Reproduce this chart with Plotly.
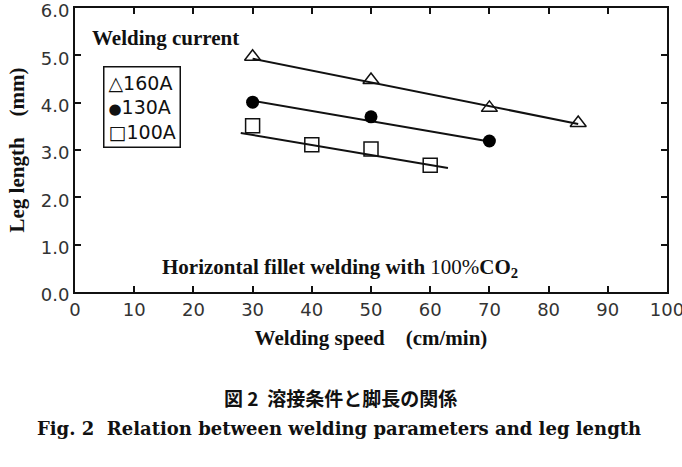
import plotly.graph_objects as go

# Data
speed_160 = [30, 50, 70, 85]
leg_160 = [4.97, 4.48, 3.89, 3.57]
speed_130 = [30, 50, 70]
leg_130 = [4.01, 3.70, 3.19]
speed_100 = [30, 40, 50, 60]
leg_100 = [3.51, 3.11, 3.02, 2.68]

# Fitted trend lines (end points)
fit_x_160 = [30, 85]
fit_y_160 = [4.93, 3.55]
fit_x_130 = [30, 70]
fit_y_130 = [4.04, 3.18]
fit_x_100 = [28, 63]
fit_y_100 = [3.36, 2.62]

series_names = ["160A", "130A", "100A"]
legend_glyphs = ["△", "<span style='font-size:15px'>●</span>", "□"]
x_ticks = [0, 10, 20, 30, 40, 50, 60, 70, 80, 90, 100]
y_ticks = [0, 1, 2, 3, 4, 5, 6]
y_tick_text = ["0.0", "1.0", "2.0", "3.0", "4.0", "5.0", "6.0"]

serif = "Liberation Serif"
fig = go.Figure()

for fx, fy in [(fit_x_160, fit_y_160), (fit_x_130, fit_y_130), (fit_x_100, fit_y_100)]:
    fig.add_trace(go.Scatter(x=fx, y=fy, mode="lines", line=dict(color="#111", width=2),
                             showlegend=False, hoverinfo="skip"))

fig.add_trace(go.Scatter(x=speed_160, y=leg_160, mode="markers", name=series_names[0],
                         marker=dict(symbol="triangle-up-open", size=14, color="#111",
                                     line=dict(width=1.5, color="#111"))))
fig.add_trace(go.Scatter(x=speed_130, y=leg_130, mode="markers", name=series_names[1],
                         marker=dict(symbol="circle", size=13, color="#000")))
fig.add_trace(go.Scatter(x=speed_100, y=leg_100, mode="markers", name=series_names[2],
                         marker=dict(symbol="square-open", size=14, color="#111",
                                     line=dict(width=1.5, color="#111"))))

axis_common = dict(showgrid=False, zeroline=False, showline=True, linecolor="#111", linewidth=2,
                   ticks="inside", ticklen=6, tickwidth=1.5, tickcolor="#111", mirror="ticks",
                   ticklabeloverflow="allow", automargin=False,
                   tickfont=dict(family="DejaVu Sans", size=18, color="#333"))

fig.update_layout(
    width=682, height=467,
    margin=dict(l=75, r=15, t=8, b=175),
    paper_bgcolor="white", plot_bgcolor="white",
    xaxis=dict(range=[0, 100], tickvals=x_ticks, **axis_common,
               title=dict(text="<b>Welding speed　(cm/min)</b>",
                          font=dict(family=serif, size=21, color="#111"), standoff=12)),
    yaxis=dict(range=[0, 6], tickvals=y_ticks, ticktext=y_tick_text, ticklabelshift=3,
               **axis_common,
               title=dict(text="<b>Leg length　(mm)</b>",
                          font=dict(family=serif, size=21, color="#111"), standoff=10)),
    showlegend=False,
)

plot_w = 682 - 75 - 15
plot_h = 467 - 8 - 175


def px_x(p):
    return (p - 75) / plot_w


def px_y(p):
    return (292 - p) / plot_h


# legend box drawn as bordered text
legend_text = "<br>".join(g + n for g, n in zip(legend_glyphs, series_names))
fig.add_annotation(x=px_x(103), y=px_y(66), xref="paper", yref="paper", xanchor="left", yanchor="top",
                   text=legend_text, showarrow=False, align="left",
                   bordercolor="#111", borderwidth=1.5, borderpad=4, bgcolor="white",
                   font=dict(family="DejaVu Sans", size=19, color="#111"))

fig.add_annotation(x=px_x(90), y=px_y(38), xref="paper", yref="paper", xanchor="left", yanchor="middle",
                   text="<b>Welding current</b>", showarrow=False,
                   font=dict(family=serif, size=21, color="#111"))
fig.add_annotation(x=px_x(160), y=px_y(268), xref="paper", yref="paper", xanchor="left", yanchor="middle",
                   text="<b>Horizontal fillet welding with </b>100%<b>CO<sub>2</sub></b>", showarrow=False,
                   font=dict(family=serif, size=21, color="#111"))

fig.add_annotation(x=px_x(340), y=px_y(397), xref="paper", yref="paper", showarrow=False,
                   xanchor="center", yanchor="middle",
                   text="<b>図 2  溶接条件と脚長の関係</b>",
                   font=dict(family="Noto Sans CJK JP", size=19, color="#111"))
fig.add_annotation(x=px_x(643), y=px_y(428), xref="paper", yref="paper", showarrow=False,
                   xanchor="right", yanchor="middle",
                   text="<b>Fig. 2  Relation between welding parameters and leg length</b>",
                   font=dict(family="DejaVu Serif", size=18, color="#111"))

fig.write_html("out.html")
